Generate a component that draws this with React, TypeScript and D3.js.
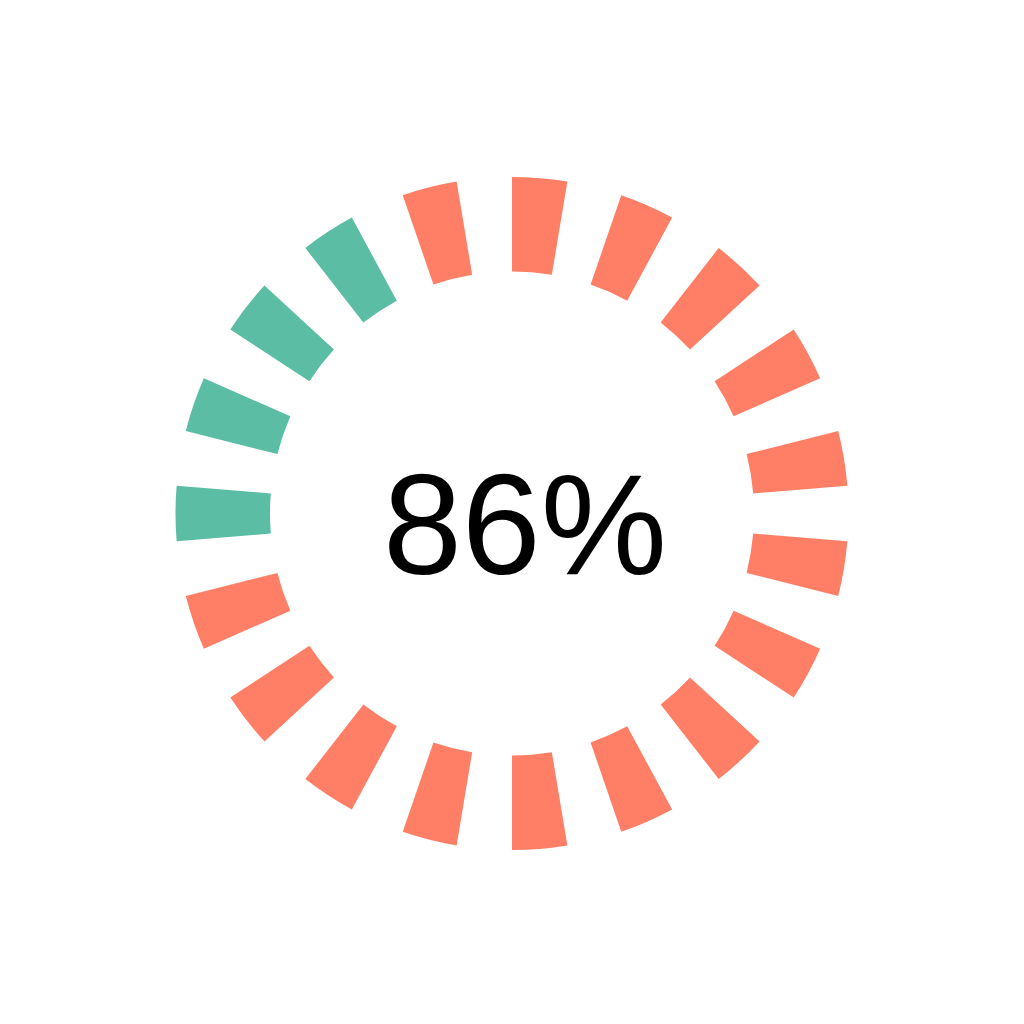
import React from "react";
import * as d3 from "d3";

const segmentIndex = d3.range(19);
const greenSegments = [14, 15, 16, 17];
const valueLabel = "86%";

const COLOR_ON = "#ff7f66";
const COLOR_GREEN = "#5bbda3";

export default function App() {
  const width = 1024;
  const height = 1024;
  const cx = 512;
  const cy = 513.5;
  const n = segmentIndex.length;
  const step = (2 * Math.PI) / n;
  const arc = d3.arc<any>().innerRadius(242).outerRadius(336.5);

  return (
    <svg
      width={width}
      height={height}
      style={{ position: "absolute", left: 0, top: 0, background: "#fff" }}
    >
      <g transform={`translate(${cx},${cy})`}>
        {segmentIndex.map((i) => (
          <path
            key={i}
            d={
              arc({
                startAngle: i * step,
                endAngle: i * step + step / 2,
              }) as string
            }
            fill={greenSegments.includes(i) ? COLOR_GREEN : COLOR_ON}
          />
        ))}
      </g>
      <text
        x={525}
        y={574}
        textAnchor="middle"
        fontFamily="Liberation Sans, Arial, sans-serif"
        fontSize={142}
        fill="#000"
      >
        {valueLabel}
      </text>
    </svg>
  );
}
